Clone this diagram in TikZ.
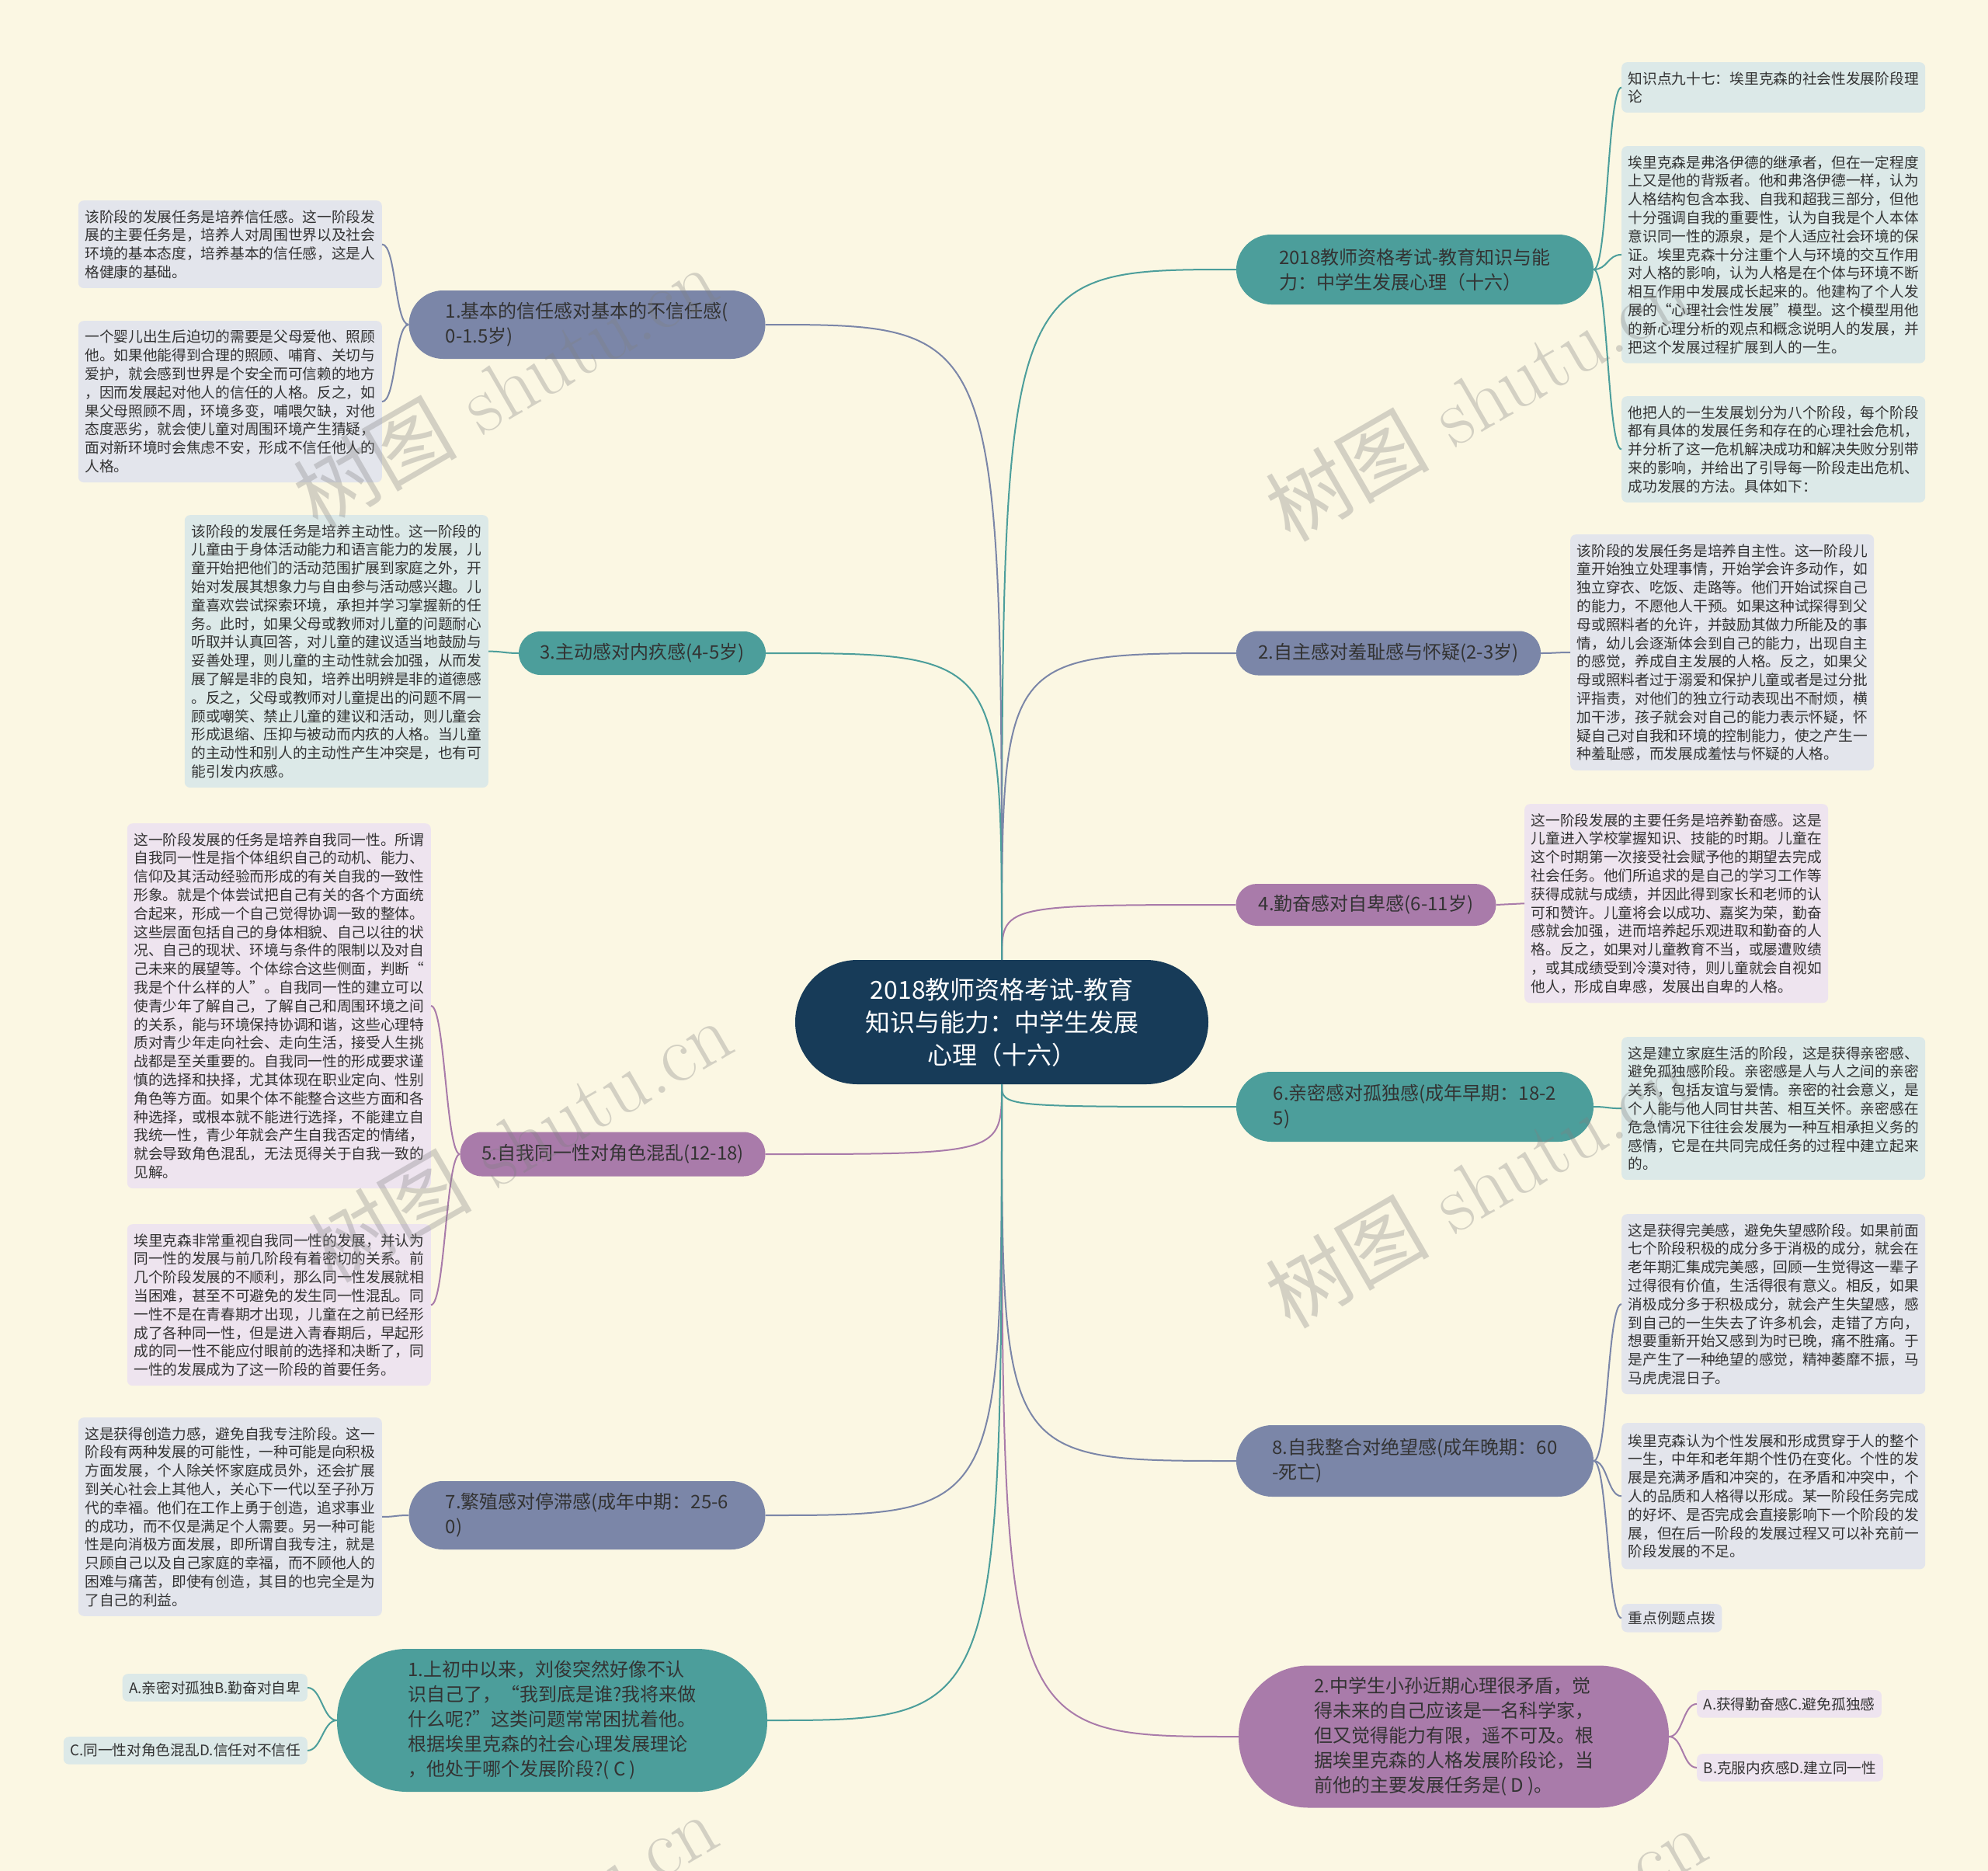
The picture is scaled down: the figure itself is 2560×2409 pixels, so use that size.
\documentclass[tikz,border=0pt]{standalone}
\usepackage{fontspec}
\newfontfamily\cjk{Noto Sans CJK SC}
\definecolor{paper}{HTML}{FBF7E3}
\definecolor{navy}{HTML}{173B58}
\definecolor{teal}{HTML}{4C9E9B}
\definecolor{slate}{HTML}{7B86A8}
\definecolor{plum}{HTML}{A97BAA}
\definecolor{tealbg}{HTML}{DCE9E8}
\definecolor{slatebg}{HTML}{E3E5EC}
\definecolor{plumbg}{HTML}{EEE4EF}
\definecolor{ink}{HTML}{333333}

\begin{document}
\begin{tikzpicture}[x=1pt, y=-1pt,
  hub/.style={fill=navy, text=white, align=center, minimum width=532pt, minimum height=160pt,
              rounded corners=80pt, font=\cjk\fontsize{32}{42}\selectfont},
  branch/.style={align=left, text=ink, font=\cjk\fontsize{24}{32}\selectfont},
  leaf/.style={rounded corners=7pt, inner xsep=8.5pt, inner ysep=12pt, align=left, text=ink,
               font=\cjk\fontsize{18.7}{23.8}\selectfont},
  wide/.style={text width=374pt},
  link/.style={line width=2pt},
  wmark/.style={text=black!50, opacity=0.32, rotate=30, font=\fontsize{106}{106}\selectfont}]

\useasboundingbox (0,0) rectangle (2560,2409);
\fill[paper] (0,0) rectangle (2560,2409);

% centre
\node[hub] (hub) at (1290,1316) {2018教师资格考试-教育\\知识与能力：中学生发展\\心理（十六）};

% right branches
\node[branch, fill=teal, minimum width=460pt, minimum height=90pt, rounded corners=45pt] (meta) at (1822,347)
  {2018教师资格考试-教育知识与能\\力：中学生发展心理（十六）};
\node[branch, fill=slate, minimum width=392pt, minimum height=57pt, rounded corners=28pt] (auto) at (1788,841)
  {2.自主感对羞耻感与怀疑(2-3岁)};
\node[branch, fill=plum, minimum width=335pt, minimum height=54pt, rounded corners=27pt] (indu) at (1759,1165)
  {4.勤奋感对自卑感(6-11岁)};
\node[branch, fill=teal, minimum width=460pt, minimum height=90pt, rounded corners=45pt] (inti) at (1822,1425)
  {6.亲密感对孤独感(成年早期：18-2\\5)};
\node[branch, fill=slate, minimum width=460pt, minimum height=92pt, rounded corners=46pt] (integ) at (1822,1881)
  {8.自我整合对绝望感(成年晚期：60\\-死亡)};
\node[branch, fill=plum, minimum width=554pt, minimum height=183pt, rounded corners=90pt] (quiz2) at (1872,2236)
  {2.中学生小孙近期心理很矛盾，觉\\得未来的自己应该是一名科学家，\\但又觉得能力有限，遥不可及。根\\据埃里克森的人格发展阶段论，当\\前他的主要发展任务是( D )。};

% left branches
\node[branch, fill=slate, minimum width=459pt, minimum height=88pt, rounded corners=44pt] (trust) at (756,418)
  {1.基本的信任感对基本的不信任感(\\0-1.5岁)};
\node[branch, fill=teal, minimum width=318pt, minimum height=56pt, rounded corners=28pt] (init) at (827,841)
  {3.主动感对内疚感(4-5岁)};
\node[branch, fill=plum, minimum width=393pt, minimum height=57pt, rounded corners=28pt] (ident) at (789,1486)
  {5.自我同一性对角色混乱(12-18)};
\node[branch, fill=slate, minimum width=459pt, minimum height=88pt, rounded corners=44pt] (gene) at (756,1951)
  {7.繁殖感对停滞感(成年中期：25-6\\0)};
\node[branch, fill=teal, minimum width=554pt, minimum height=184pt, rounded corners=90pt] (quiz1) at (711,2215)
  {1.上初中以来，刘俊突然好像不认\\识自己了，“我到底是谁?我将来做\\什么呢?”这类问题常常困扰着他。\\根据埃里克森的社会心理发展理论\\，他处于哪个发展阶段?( C )};

% right leaves
\node[leaf, wide, fill=tealbg, anchor=north west] (k1) at (2088,80)
  {知识点九十七：埃里克森的社会性发展阶段理\\论};
\node[leaf, wide, fill=tealbg, anchor=north west] (k2) at (2088,188)
  {埃里克森是弗洛伊德的继承者，但在一定程度\\上又是他的背叛者。他和弗洛伊德一样，认为\\人格结构包含本我、自我和超我三部分，但他\\十分强调自我的重要性，认为自我是个人本体\\意识同一性的源泉，是个人适应社会环境的保\\证。埃里克森十分注重个人与环境的交互作用\\对人格的影响，认为人格是在个体与环境不断\\相互作用中发展成长起来的。他建构了个人发\\展的“心理社会性发展”模型。这个模型用他\\的新心理分析的观点和概念说明人的发展，并\\把这个发展过程扩展到人的一生。};
\node[leaf, wide, fill=tealbg, anchor=north west] (k3) at (2088,510)
  {他把人的一生发展划分为八个阶段，每个阶段\\都有具体的发展任务和存在的心理社会危机，\\并分析了这一危机解决成功和解决失败分别带\\来的影响，并给出了引导每一阶段走出危机、\\成功发展的方法。具体如下：};
\node[leaf, wide, fill=slatebg, anchor=north west] (autotxt) at (2022,688)
  {该阶段的发展任务是培养自主性。这一阶段儿\\童开始独立处理事情，开始学会许多动作，如\\独立穿衣、吃饭、走路等。他们开始试探自己\\的能力，不愿他人干预。如果这种试探得到父\\母或照料者的允许，并鼓励其做力所能及的事\\情，幼儿会逐渐体会到自己的能力，出现自主\\的感觉，养成自主发展的人格。反之，如果父\\母或照料者过于溺爱和保护儿童或者是过分批\\评指责，对他们的独立行动表现出不耐烦，横\\加干涉，孩子就会对自己的能力表示怀疑，怀\\疑自己对自我和环境的控制能力，使之产生一\\种羞耻感，而发展成羞怯与怀疑的人格。};
\node[leaf, wide, fill=plumbg, anchor=north west] (indutxt) at (1963,1035)
  {这一阶段发展的主要任务是培养勤奋感。这是\\儿童进入学校掌握知识、技能的时期。儿童在\\这个时期第一次接受社会赋予他的期望去完成\\社会任务。他们所追求的是自己的学习工作等\\获得成就与成绩，并因此得到家长和老师的认\\可和赞许。儿童将会以成功、嘉奖为荣，勤奋\\感就会加强，进而培养起乐观进取和勤奋的人\\格。反之，如果对儿童教育不当，或屡遭败绩\\，或其成绩受到冷漠对待，则儿童就会自视如\\他人，形成自卑感，发展出自卑的人格。};
\node[leaf, wide, fill=tealbg, anchor=north west] (intitxt) at (2088,1335)
  {这是建立家庭生活的阶段，这是获得亲密感、\\避免孤独感阶段。亲密感是人与人之间的亲密\\关系，包括友谊与爱情。亲密的社会意义，是\\个人能与他人同甘共苦、相互关怀。亲密感在\\危急情况下往往会发展为一种互相承担义务的\\感情，它是在共同完成任务的过程中建立起来\\的。};
\node[leaf, wide, fill=slatebg, anchor=north west] (integ1) at (2088,1563)
  {这是获得完美感，避免失望感阶段。如果前面\\七个阶段积极的成分多于消极的成分，就会在\\老年期汇集成完美感，回顾一生觉得这一辈子\\过得很有价值，生活得很有意义。相反，如果\\消极成分多于积极成分，就会产生失望感，感\\到自己的一生失去了许多机会，走错了方向，\\想要重新开始又感到为时已晚，痛不胜痛。于\\是产生了一种绝望的感觉，精神萎靡不振，马\\马虎虎混日子。};
\node[leaf, wide, fill=slatebg, anchor=north west, inner ysep=14pt] (integ2) at (2088,1832)
  {埃里克森认为个性发展和形成贯穿于人的整个\\一生，中年和老年期个性仍在变化。个性的发\\展是充满矛盾和冲突的，在矛盾和冲突中，个\\人的品质和人格得以形成。某一阶段任务完成\\的好坏、是否完成会直接影响下一个阶段的发\\展，但在后一阶段的发展过程又可以补充前一\\阶段发展的不足。};
\node[leaf, fill=slatebg, anchor=north west, inner ysep=9.5pt] (integ3) at (2088,2065) {重点例题点拨};
\node[leaf, fill=plumbg, anchor=north west, inner ysep=9pt] (q2a) at (2185,2176) {A.获得勤奋感C.避免孤独感};
\node[leaf, fill=plumbg, anchor=north west, inner ysep=9pt] (q2b) at (2185,2258) {B.克服内疚感D.建立同一性};

% left leaves
\node[leaf, wide, fill=slatebg, anchor=north east] (trust1) at (492,258)
  {该阶段的发展任务是培养信任感。这一阶段发\\展的主要任务是，培养人对周围世界以及社会\\环境的基本态度，培养基本的信任感，这是人\\格健康的基础。};
\node[leaf, wide, fill=slatebg, anchor=north east] (trust2) at (492,413)
  {一个婴儿出生后迫切的需要是父母爱他、照顾\\他。如果他能得到合理的照顾、哺育、关切与\\爱护，就会感到世界是个安全而可信赖的地方\\，因而发展起对他人的信任的人格。反之，如\\果父母照顾不周，环境多变，哺喂欠缺，对他\\态度恶劣，就会使儿童对周围环境产生猜疑，\\面对新环境时会焦虑不安，形成不信任他人的\\人格。};
\node[leaf, wide, fill=tealbg, anchor=north east] (inittxt) at (629,663)
  {该阶段的发展任务是培养主动性。这一阶段的\\儿童由于身体活动能力和语言能力的发展，儿\\童开始把他们的活动范围扩展到家庭之外，开\\始对发展其想象力与自由参与活动感兴趣。儿\\童喜欢尝试探索环境，承担并学习掌握新的任\\务。此时，如果父母或教师对儿童的问题耐心\\听取并认真回答，对儿童的建议适当地鼓励与\\妥善处理，则儿童的主动性就会加强，从而发\\展了解是非的良知，培养出明辨是非的道德感\\。反之，父母或教师对儿童提出的问题不屑一\\顾或嘲笑、禁止儿童的建议和活动，则儿童会\\形成退缩、压抑与被动而内疚的人格。当儿童\\的主动性和别人的主动性产生冲突是，也有可\\能引发内疚感。};
\node[leaf, wide, fill=plumbg, anchor=north east] (ident1) at (555,1060)
  {这一阶段发展的任务是培养自我同一性。所谓\\自我同一性是指个体组织自己的动机、能力、\\信仰及其活动经验而形成的有关自我的一致性\\形象。就是个体尝试把自己有关的各个方面统\\合起来，形成一个自己觉得协调一致的整体。\\这些层面包括自己的身体相貌、自己以往的状\\况、自己的现状、环境与条件的限制以及对自\\己未来的展望等。个体综合这些侧面，判断“\\我是个什么样的人”。自我同一性的建立可以\\使青少年了解自己，了解自己和周围环境之间\\的关系，能与环境保持协调和谐，这些心理特\\质对青少年走向社会、走向生活，接受人生挑\\战都是至关重要的。自我同一性的形成要求谨\\慎的选择和抉择，尤其体现在职业定向、性别\\角色等方面。如果个体不能整合这些方面和各\\种选择，或根本就不能进行选择，不能建立自\\我统一性，青少年就会产生自我否定的情绪，\\就会导致角色混乱，无法觅得关于自我一致的\\见解。};
\node[leaf, wide, fill=plumbg, anchor=north east] (ident2) at (555,1576)
  {埃里克森非常重视自我同一性的发展，并认为\\同一性的发展与前几阶段有着密切的关系。前\\几个阶段发展的不顺利，那么同一性发展就相\\当困难，甚至不可避免的发生同一性混乱。同\\一性不是在青春期才出现，儿童在之前已经形\\成了各种同一性，但是进入青春期后，早起形\\成的同一性不能应付眼前的选择和决断了，同\\一性的发展成为了这一阶段的首要任务。};
\node[leaf, wide, fill=slatebg, anchor=north east] (genetxt) at (492,1825)
  {这是获得创造力感，避免自我专注阶段。这一\\阶段有两种发展的可能性，一种可能是向积极\\方面发展，个人除关怀家庭成员外，还会扩展\\到关心社会上其他人，关心下一代以至子孙万\\代的幸福。他们在工作上勇于创造，追求事业\\的成功，而不仅是满足个人需要。另一种可能\\性是向消极方面发展，即所谓自我专注，就是\\只顾自己以及自己家庭的幸福，而不顾他人的\\困难与痛苦，即使有创造，其目的也完全是为\\了自己的利益。};
\node[leaf, fill=tealbg, anchor=north east, inner ysep=9pt] (q1a) at (396,2155) {A.亲密对孤独B.勤奋对自卑};
\node[leaf, fill=tealbg, anchor=north east, inner ysep=9pt] (q1b) at (396,2236) {C.同一性对角色混乱D.信任对不信任};

% centre to branches
\draw[link, draw=teal] (hub.north) .. controls (hub.north |- meta.west) .. (meta.west);
\draw[link, draw=slate] (hub.north) .. controls (hub.north |- auto.west) .. (auto.west);
\draw[link, draw=plum] (hub.north) .. controls (hub.north |- indu.west) .. (indu.west);
\draw[link, draw=teal] (hub.south) .. controls (hub.south |- inti.west) .. (inti.west);
\draw[link, draw=slate] (hub.south) .. controls (hub.south |- integ.west) .. (integ.west);
\draw[link, draw=plum] (hub.south) .. controls (hub.south |- quiz2.west) .. (quiz2.west);
\draw[link, draw=slate] (hub.north) .. controls (hub.north |- trust.east) .. (trust.east);
\draw[link, draw=teal] (hub.north) .. controls (hub.north |- init.east) .. (init.east);
\draw[link, draw=plum] (hub.south) .. controls (hub.south |- ident.east) .. (ident.east);
\draw[link, draw=slate] (hub.south) .. controls (hub.south |- gene.east) .. (gene.east);
\draw[link, draw=teal] (hub.south) .. controls (hub.south |- quiz1.east) .. (quiz1.east);

% branches to leaves
\draw[link, draw=teal] (meta.east) .. controls +(18,0) and +(-18,0) .. (k1.west);
\draw[link, draw=teal] (meta.east) .. controls +(18,0) and +(-18,0) .. (k2.west);
\draw[link, draw=teal] (meta.east) .. controls +(18,0) and +(-18,0) .. (k3.west);
\draw[link, draw=slate] (auto.east) .. controls +(18,0) and +(-18,0) .. (autotxt.west);
\draw[link, draw=plum] (indu.east) .. controls +(18,0) and +(-18,0) .. (indutxt.west);
\draw[link, draw=teal] (inti.east) .. controls +(18,0) and +(-18,0) .. (intitxt.west);
\draw[link, draw=slate] (integ.east) .. controls +(18,0) and +(-18,0) .. (integ1.west);
\draw[link, draw=slate] (integ.east) .. controls +(18,0) and +(-18,0) .. (integ2.west);
\draw[link, draw=slate] (integ.east) .. controls +(18,0) and +(-18,0) .. (integ3.west);
\draw[link, draw=plum] (quiz2.east) .. controls +(18,0) and +(-18,0) .. (q2a.west);
\draw[link, draw=plum] (quiz2.east) .. controls +(18,0) and +(-18,0) .. (q2b.west);
\draw[link, draw=slate] (trust.west) .. controls +(-18,0) and +(18,0) .. (trust1.east);
\draw[link, draw=slate] (trust.west) .. controls +(-18,0) and +(18,0) .. (trust2.east);
\draw[link, draw=teal] (init.west) .. controls +(-18,0) and +(18,0) .. (inittxt.east);
\draw[link, draw=plum] (ident.west) .. controls +(-18,0) and +(18,0) .. (ident1.east);
\draw[link, draw=plum] (ident.west) .. controls +(-18,0) and +(18,0) .. (ident2.east);
\draw[link, draw=slate] (gene.west) .. controls +(-18,0) and +(18,0) .. (genetxt.east);
\draw[link, draw=teal] (quiz1.west) .. controls +(-18,0) and +(18,0) .. (q1a.east);
\draw[link, draw=teal] (quiz1.west) .. controls +(-18,0) and +(18,0) .. (q1b.east);

% watermarks
\node[wmark] (wm1) at (650,498) {{\cjk 树图} shutu.cn};
\node[wmark] (wm2) at (1902,514) {{\cjk 树图} shutu.cn};
\node[wmark] (wm3) at (669,1468) {{\cjk 树图} shutu.cn};
\node[wmark] (wm4) at (1902,1527) {{\cjk 树图} shutu.cn};
\node[wmark] (wm5) at (650,2490) {{\cjk 树图} shutu.cn};
\node[wmark] (wm6) at (1924,2507) {{\cjk 树图} shutu.cn};
\end{tikzpicture}
\end{document}
